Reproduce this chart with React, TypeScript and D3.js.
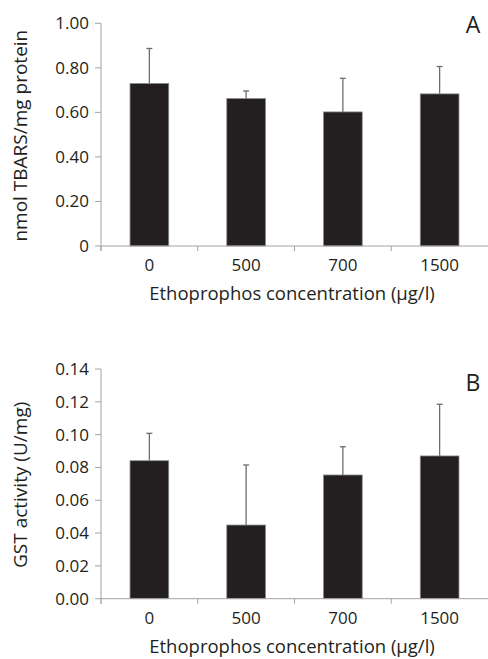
import React from 'react';
import * as d3 from 'd3';

// concentrations of ethoprophos (µg/l)
const categories = ['0', '500', '700', '1500'];

// panel A: TBARS
const tbarsMean = [0.73, 0.662, 0.602, 0.683];
const tbarsSd = [0.157, 0.034, 0.151, 0.123];
const tbarsTicks = [0, 0.2, 0.4, 0.6, 0.8, 1.0];

// panel B: GST
const gstMean = [0.0841, 0.0449, 0.0754, 0.087];
const gstSd = [0.0167, 0.0366, 0.0172, 0.0315];
const gstTicks = [0, 0.02, 0.04, 0.06, 0.08, 0.1, 0.12, 0.14];

const font = '"Open Sans", sans-serif';
const axisColor = '#a3a3a3';
const textColor = '#231f20';

type PanelProps = {
  top: number;
  bottom: number;
  means: number[];
  sds: number[];
  ticks: number[];
  fmt: (d: number) => string;
  yLabel: string;
  yLabelSize: number;
  letter: string;
  letterY: number;
};

const Panel = ({ top, bottom, means, sds, ticks, fmt, yLabel, yLabelSize, letter, letterY }: PanelProps) => {
  const left = 101;
  const right = 488;

  const x = d3.scaleBand().domain(categories).range([left, right]).padding(0);
  const y = d3
    .scaleLinear()
    .domain([0, d3.max(ticks) as number])
    .range([bottom, top]);

  const barW = x.bandwidth() * 0.4;
  const bounds = d3.range(categories.length).map((i) => left + i * x.step());

  return (
    <g>
      {/* bars + error bars */}
      {categories.map((c, i) => {
        const cx = (x(c) as number) + x.bandwidth() / 2;
        const yTop = y(means[i]);
        const yErr = y(means[i] + sds[i]);
        return (
          <g key={c}>
            <line x1={cx} x2={cx} y1={yTop} y2={yErr} stroke="#6d6d6d" strokeWidth={1.3} />
            <line x1={cx - 3} x2={cx + 3} y1={yErr} y2={yErr} stroke="#6d6d6d" strokeWidth={1.3} />
            <rect
              x={cx - barW / 2}
              y={yTop}
              width={barW}
              height={bottom - yTop}
              fill="#231f20"
              stroke="#8a8a8a"
              strokeWidth={0.8}
            />
          </g>
        );
      })}

      {/* y axis */}
      <line x1={left} x2={left} y1={top} y2={bottom + 5} stroke={axisColor} strokeWidth={1} />
      {ticks.map((t) => (
        <g key={t}>
          <line x1={left - 6} x2={left} y1={y(t)} y2={y(t)} stroke={axisColor} strokeWidth={1} />
          <text
            x={89}
            y={y(t)}
            dy="0.35em"
            textAnchor="end"
            fontFamily={font}
            fontSize={17}
            fill={textColor}
          >
            {fmt(t)}
          </text>
        </g>
      ))}

      {/* x axis */}
      <line x1={left} x2={right} y1={bottom} y2={bottom} stroke={axisColor} strokeWidth={1} />
      {bounds.map((b) => (
        <line key={b} x1={b} x2={b} y1={bottom} y2={bottom + 5} stroke={axisColor} strokeWidth={1} />
      ))}
      {categories.map((c) => (
        <text
          key={c}
          x={(x(c) as number) + x.bandwidth() / 2}
          y={bottom + 19}
          dy="0.35em"
          textAnchor="middle"
          fontFamily={font}
          fontSize={17}
          fill={textColor}
        >
          {c}
        </text>
      ))}
      <text
        x={292}
        y={bottom + 48}
        dy="0.35em"
        textAnchor="middle"
        fontFamily={font}
        fontSize={18.5}
        fill={textColor}
      >
        Ethoprophos concentration (µg/l)
      </text>

      {/* y title */}
      <text
        transform={`translate(20,${(top + bottom) / 2 + 1}) rotate(-90)`}
        dy="0.35em"
        textAnchor="middle"
        fontFamily={font}
        fontSize={yLabelSize}
        fill={textColor}
      >
        {yLabel}
      </text>

      <text x={473} y={letterY} dy="0.35em" textAnchor="middle" fontFamily={font} fontSize={23} fill={textColor}>
        {letter}
      </text>
    </g>
  );
};

const App = () => {
  return (
    <svg
      width={488}
      height={659}
      style={{ position: 'absolute', left: 0, top: 0, background: '#fff' }}
    >
      <Panel
        top={23.3}
        bottom={246}
        means={tbarsMean}
        sds={tbarsSd}
        ticks={tbarsTicks}
        fmt={(d) => (d === 0 ? '0' : d.toFixed(2))}
        yLabel="nmol TBARS/mg protein"
        yLabelSize={19}
        letter="A"
        letterY={25}
      />
      <Panel
        top={369}
        bottom={598.7}
        means={gstMean}
        sds={gstSd}
        ticks={gstTicks}
        fmt={(d) => d.toFixed(2)}
        yLabel="GST activity (U/mg)"
        yLabelSize={19}
        letter="B"
        letterY={383}
      />
    </svg>
  );
};

export default App;
